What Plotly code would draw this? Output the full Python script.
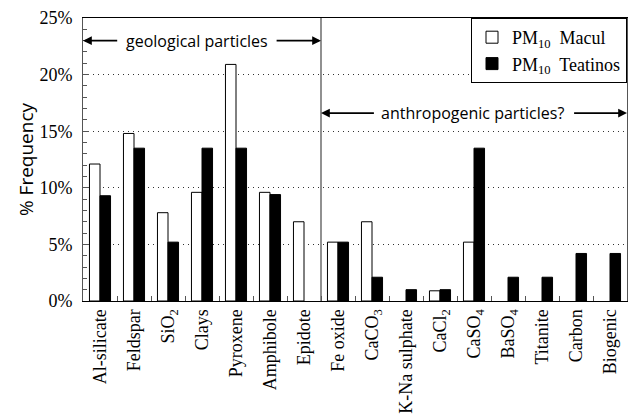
import plotly.graph_objects as go

categories = ["Al-silicate", "Feldspar", "SiO<sub>2</sub>", "Clays", "Pyroxene", "Amphibole",
              "Epidote", "Fe oxide", "CaCO<sub>3</sub>", "K-Na sulphate", "CaCl<sub>2</sub>",
              "CaSO<sub>4</sub>", "BaSO<sub>4</sub>", "Titanite", "Carbon", "Biogenic"]
macul = [12.1, 14.8, 7.8, 9.6, 20.9, 9.6, 7.0, 5.2, 7.0, 0.0, 0.9, 5.2, 0.0, 0.0, 0.0, 0.0]
teatinos = [9.3, 13.5, 5.2, 13.5, 13.5, 9.4, 0.0, 5.2, 2.1, 1.0, 1.0, 13.5, 2.1, 2.1, 4.2, 4.2]
series_names = ["PM<sub>10</sub>  Macul", "PM<sub>10</sub>  Teatinos"]
ytick_vals = [0, 5, 10, 15, 20, 25]
ytick_text = ["0%", "5%", "10%", "15%", "20%", "25%"]

serif = "Liberation Serif"
sans = "Open Sans"
AX = "#555555"


def hide_zero(vals):
    return [v if v > 0 else None for v in vals]


fig = go.Figure()
fig.add_trace(go.Bar(x=categories, y=hide_zero(macul), name=series_names[0],
                     marker=dict(color="white", line=dict(color="black", width=1))))
fig.add_trace(go.Bar(x=categories, y=hide_zero(teatinos), name=series_names[1],
                     marker=dict(color="black", line=dict(color="black", width=1))))

fig.update_layout(
    width=628, height=419,
    margin=dict(l=83, r=1, t=18, b=118),
    paper_bgcolor="white", plot_bgcolor="white",
    barmode="group", bargap=0.38, bargroupgap=0,
    font=dict(family=serif, size=18, color="black"),
    showlegend=True,
    legend=dict(x=1, xanchor="right", y=1, yanchor="top",
                bgcolor="white", bordercolor="black", borderwidth=1,
                font=dict(family=serif, size=18, color="black"),
                itemwidth=30, tracegroupgap=0),
)

fig.update_xaxes(
    type="category", range=[-0.5, 15.5],
    showline=True, linecolor="black", linewidth=1, mirror=True,
    ticks="inside", tickson="boundaries", ticklen=5, tickcolor=AX,
    tickangle=-90, tickfont=dict(family=serif, size=18, color="black"),
    showgrid=False,
)
fig.update_yaxes(
    range=[0, 25], tickvals=ytick_vals, ticktext=ytick_text,
    showline=True, linecolor=AX, linewidth=1, mirror=True,
    ticks="inside", ticklen=6, tickcolor=AX,
    minor=dict(dtick=1, ticks="inside", ticklen=4, tickcolor=AX, showgrid=False),
    showgrid=True, gridcolor="#333333", griddash="1px,4px", gridwidth=1,
    tickfont=dict(family=serif, size=18, color="black"),
    ticklabelstandoff=6,
    title=dict(text="% Frequency", font=dict(family=sans, size=19, color="black"), standoff=0),
    zeroline=False,
)

# divider between geological and anthropogenic groups
fig.add_shape(type="line", xref="x", yref="paper", x0=6.5, x1=6.5, y0=0, y1=1,
              line=dict(color=AX, width=1.3))


def arrow(x_head, x_tail, y):
    fig.add_annotation(x=x_head, y=y, ax=x_tail, ay=y, xref="x", yref="y",
                       axref="x", ayref="y", text="", showarrow=True,
                       arrowhead=2, arrowsize=1.1, arrowwidth=1.6, arrowcolor="black")


# geological particles
arrow(-0.5, 0.55, 23)
arrow(6.5, 5.15, 23)
fig.add_annotation(x=2.85, y=23, xref="x", yref="y", text="geological particles",
                   showarrow=False, font=dict(family=sans, size=16, color="black"))

# anthropogenic particles
arrow(6.5, 8.1, 16.6)
arrow(15.5, 13.9, 16.6)
fig.add_annotation(x=10.95, y=16.6, xref="x", yref="y", text="anthropogenic particles?",
                   showarrow=False, font=dict(family=sans, size=16, color="black"))

fig.write_html("out.html")
